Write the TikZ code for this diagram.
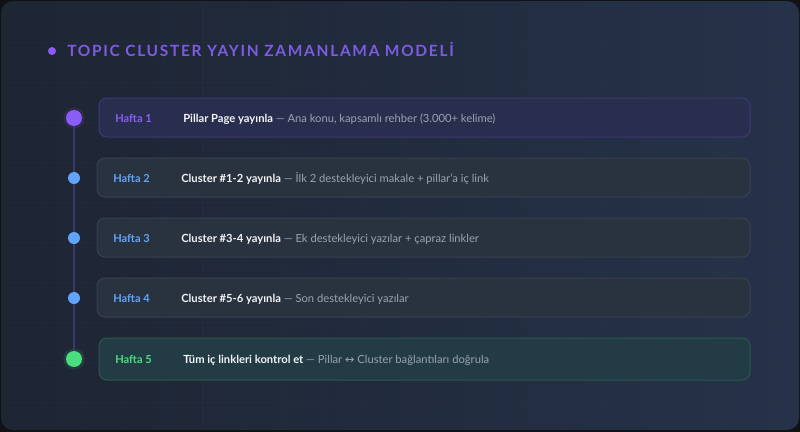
\documentclass[tikz,border=0pt]{standalone}
\usepackage{fontspec}
\setmainfont{Lato}
\newfontfamily\symfont{DejaVu Sans}
\usepackage{tikz}

\definecolor{outerbg}{HTML}{111214}
\definecolor{panelA}{HTML}{1E2533}
\definecolor{panelB}{HTML}{253249}
\definecolor{gridcol}{HTML}{2C3545}
\definecolor{accpurple}{HTML}{8B5CF6}
\definecolor{titlepurple}{HTML}{7C5CE0}
\definecolor{accblue}{HTML}{60A5FA}
\definecolor{accgreen}{HTML}{4ADE80}
\definecolor{railcol}{HTML}{3A3670}
\definecolor{boxAfill}{HTML}{2A2E4E}
\definecolor{boxAline}{HTML}{3D3878}
\definecolor{boxfill}{HTML}{29323F}
\definecolor{boxline}{HTML}{384150}
\definecolor{boxEfill}{HTML}{233B44}
\definecolor{boxEline}{HTML}{2B5A4A}
\definecolor{txtwhite}{HTML}{F3F5F8}
\definecolor{txtgrey}{HTML}{9AA3B0}

\begin{document}
\begin{tikzpicture}[x=0.75pt, y=-0.75pt,
    weekbox/.style={draw=boxline, fill=boxfill, line width=0.75pt, rounded corners=6pt,
        minimum width=489.75pt, minimum height=29.25pt, inner sep=0pt},
    weeklabel/.style={anchor=base west, inner sep=0pt, font=\fontsize{8.3pt}{10pt}\selectfont\bfseries},
    weektext/.style={anchor=base west, inner sep=0pt, font=\fontsize{8.4pt}{10pt}\selectfont, text=txtgrey},
    stepdot/.style={circle, fill=accblue, minimum size=9pt, inner sep=0pt},
    bigdot/.style={circle, minimum size=12pt, inner sep=0pt},
    glow/.style={circle, minimum size=16pt, inner sep=0pt, opacity=0.12}]

    % Background panel
    \fill[outerbg] (0,0) rectangle (800,432);
    \shade[left color=panelA, right color=panelB, rounded corners=9pt] (1,1) rectangle (799,430);
    \useasboundingbox (0,0) rectangle (800,432);

    % Faint grid
    \begin{scope}
        \clip[rounded corners=9pt] (1,1) rectangle (799,430);
        \foreach \gx in {42,82,...,800} \draw[gridcol, line width=0.4pt, opacity=0.25] (\gx,1) -- (\gx,430);
        \foreach \gy in {42,82,...,430} \draw[gridcol, line width=0.4pt, opacity=0.25] (1,\gy) -- (799,\gy);
    \end{scope}

    % Title
    \node[circle, fill=accpurple, minimum size=6pt, inner sep=0pt] (titledot) at (52,51) {};
    \node[anchor=base west, inner sep=0pt, text=titlepurple,
          font=\fontsize{11.6pt}{14pt}\selectfont\bfseries\addfontfeature{LetterSpace=11}]
          (title) at (67,56.5) {TOPIC CLUSTER YAYIN ZAMANLAMA MODELİ};

    % Boxes
    \node[weekbox, draw=boxAline, fill=boxAfill, minimum width=488.25pt] (box1) at (424.5,117.5) {};
    \node[weekbox] (box2) at (423.5,177.5) {};
    \node[weekbox] (box3) at (423.5,237.5) {};
    \node[weekbox] (box4) at (423.5,297.5) {};
    \node[weekbox, draw=boxEline, fill=boxEfill, minimum width=488.25pt, minimum height=31.5pt] (box5) at (424.5,359) {};

    % Timeline dots
    \node[glow, fill=accpurple] (glow1) at (74,118) {};
    \node[glow, fill=accgreen] (glow5) at (74,359) {};
    \coordinate (rail1) at (74,118);
    \coordinate (rail5) at (74,359);
    \draw[railcol, line width=1.5pt] (rail1) -- (rail5);
    \node[bigdot, fill=accpurple] (dot1) at (rail1) {};
    \node[stepdot] (dot2) at (74,178) {};
    \node[stepdot] (dot3) at (74,238) {};
    \node[stepdot] (dot4) at (74,298) {};
    \node[bigdot, fill=accgreen] (dot5) at (rail5) {};

    % Labels
    \node[weeklabel, text=accpurple] (week1) at (115,122) {Hafta 1};
    \node[weeklabel, text=accblue] (week2) at (113,182) {Hafta 2};
    \node[weeklabel, text=accblue] (week3) at (113,242) {Hafta 3};
    \node[weeklabel, text=accblue] (week4) at (113,302) {Hafta 4};
    \node[weeklabel, text=accgreen] (week5) at (115,363) {Hafta 5};

    \node[weektext] (task1) at (183,122) {\textcolor{txtwhite}{\bfseries Pillar Page yayınla} — Ana konu, kapsamlı rehber (3.000+ kelime)};
    \node[weektext] (task2) at (181,182) {\textcolor{txtwhite}{\bfseries Cluster \#1-2 yayınla} — İlk 2 destekleyici makale + pillar'a iç link};
    \node[weektext] (task3) at (181,242) {\textcolor{txtwhite}{\bfseries Cluster \#3-4 yayınla} — Ek destekleyici yazılar + çapraz linkler};
    \node[weektext] (task4) at (181,302) {\textcolor{txtwhite}{\bfseries Cluster \#5-6 yayınla} — Son destekleyici yazılar};
    \node[weektext] (task5) at (183,363) {\textcolor{txtwhite}{\bfseries Tüm iç linkleri kontrol et} — Pillar {\symfont ↔} Cluster bağlantıları doğrula};
\end{tikzpicture}
\end{document}
